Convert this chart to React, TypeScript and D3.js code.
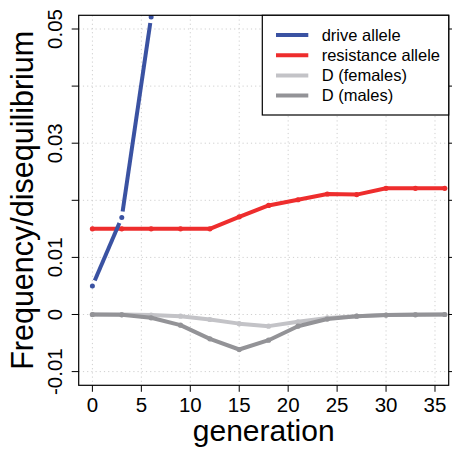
import React from "react";
import * as d3 from "d3";

const generations = [0, 3, 6, 9, 12, 15, 18, 21, 24, 27, 30, 33, 36];
const driveGenerations = [0, 3, 6];
const driveAllele = [0.005, 0.017, 0.0521];
const resistanceAllele = [0.015, 0.015, 0.015, 0.015, 0.015, 0.0171, 0.0191, 0.0201, 0.0211, 0.021, 0.0221, 0.0221, 0.0221];
const dFemales = [0, -0.00002, -0.0001, -0.0003, -0.00088, -0.0016, -0.00204, -0.00128, -0.0006, -0.0003, -0.0001, 0, 0];
const dMales = [0, -0.00005, -0.00058, -0.00187, -0.00426, -0.00613, -0.0045, -0.00205, -0.0008, -0.0003, -0.0001, -0.00005, 0];

const xTicks = [0, 5, 10, 15, 20, 25, 30, 35];
const yTicks = [-0.01, 0, 0.01, 0.02, 0.03, 0.04, 0.05];
const yTickLabels = ["-0.01", "0", "0.01", "", "0.03", "", "0.05"];

const legendLabels = ["drive allele", "resistance allele", "D (females)", "D (males)"];
const colors = ["#3a52a2", "#ee2d2d", "#c3c3c7", "#939397"];

const W = 452;
const H = 450;
const L = 78.7, R = 448.7, T = 15.3, B = 385.3;
const FONT = "'Liberation Sans', Arial, Helvetica, sans-serif";

export default function App() {
  const x = d3.scaleLinear().domain([-1.4, 36.4]).range([L, R]);
  const y = d3.scaleLinear().domain([-0.0124, 0.0524]).range([B, T]);

  const line = d3
    .line<[number, number]>()
    .x((d) => x(d[0]))
    .y((d) => y(d[1]));

  const series = (vals: number[], gens: number[]) =>
    gens.map((g, i) => [g, vals[i]] as [number, number]);

  const red = series(resistanceAllele, generations);
  const fem = series(dFemales, generations);
  const mal = series(dMales, generations);
  const blue = series(driveAllele, driveGenerations);

  // type="b" style segments for the drive allele
  const gap = 6;
  const blueSegs = blue.slice(1).map((d, i) => {
    const p0 = [x(blue[i][0]), y(blue[i][1])];
    const p1 = [x(d[0]), y(d[1])];
    const dx = p1[0] - p0[0];
    const dy = p1[1] - p0[1];
    const len = Math.hypot(dx, dy);
    const ux = dx / len, uy = dy / len;
    return {
      x1: p0[0] + ux * gap,
      y1: p0[1] + uy * gap,
      x2: p1[0] - ux * gap,
      y2: p1[1] - uy * gap,
    };
  });

  const lw = 4;

  return (
    <svg
      width={W}
      height={H}
      style={{ position: "absolute", left: 0, top: 0, background: "#fff" }}
      fontFamily={FONT}
    >
      <defs>
        <clipPath id="plotclip">
          <rect x={L} y={T} width={R - L} height={B - T} />
        </clipPath>
      </defs>
      <rect x={0} y={0} width={W} height={H} fill="#fff" />

      {/* grid */}
      <g stroke="#cfcfcf" strokeWidth={1} strokeDasharray="1.2,3">
        {xTicks.map((t) => (
          <line key={"gx" + t} x1={x(t)} x2={x(t)} y1={T} y2={B} />
        ))}
        {yTicks.map((t) => (
          <line key={"gy" + t} x1={L} x2={R} y1={y(t)} y2={y(t)} />
        ))}
      </g>

      {/* data */}
      <g clipPath="url(#plotclip)">
        <path d={line(fem) || ""} fill="none" stroke={colors[2]} strokeWidth={lw} strokeLinejoin="round" />
        {fem.map((d, i) => (
          <circle key={"f" + i} cx={x(d[0])} cy={y(d[1])} r={2.6} fill={colors[2]} />
        ))}
        <path d={line(mal) || ""} fill="none" stroke={colors[3]} strokeWidth={lw} strokeLinejoin="round" />
        {mal.map((d, i) => (
          <circle key={"m" + i} cx={x(d[0])} cy={y(d[1])} r={2.6} fill={colors[3]} />
        ))}
        <path d={line(red) || ""} fill="none" stroke={colors[1]} strokeWidth={lw} strokeLinejoin="round" />
        {red.map((d, i) => (
          <circle key={"r" + i} cx={x(d[0])} cy={y(d[1])} r={2.6} fill={colors[1]} />
        ))}
        {blueSegs.map((s, i) => (
          <line key={"b" + i} {...s} stroke={colors[0]} strokeWidth={lw} />
        ))}
        {blue.map((d, i) => (
          <circle key={"bp" + i} cx={x(d[0])} cy={y(d[1])} r={2.5} fill={colors[0]} />
        ))}
      </g>

      {/* box */}
      <rect x={L} y={T} width={R - L} height={B - T} fill="none" stroke="#000" strokeWidth={1.2} />

      {/* x axis */}
      <g>
        {xTicks.map((t) => (
          <g key={"xt" + t}>
            <line x1={x(t)} x2={x(t)} y1={B} y2={B + 6.5} stroke="#000" strokeWidth={1} />
            <text x={x(t)} y={411.5} textAnchor="middle" fontSize={20.5} fill="#000">
              {t}
            </text>
          </g>
        ))}
      </g>

      {/* y axis left */}
      <g>
        {yTicks.map((t, i) => (
          <g key={"yt" + t}>
            <line x1={L} x2={L - 7} y1={y(t)} y2={y(t)} stroke="#000" strokeWidth={1} />
            {yTickLabels[i] && (
              <text
                transform={`translate(61.7,${y(t)}) rotate(-90)`}
                textAnchor="middle"
                fontSize={20.5}
                fill="#000"
              >
                {yTickLabels[i]}
              </text>
            )}
          </g>
        ))}
      </g>

      {/* y axis right ticks */}
      <g>
        {yTicks.map((t) => (
          <line key={"yr" + t} x1={R} x2={R + 7} y1={y(t)} y2={y(t)} stroke="#000" strokeWidth={1} />
        ))}
      </g>

      {/* axis titles */}
      <text x={(L + R) / 2} y={440.5} textAnchor="middle" fontSize={30} fill="#000">
        generation
      </text>
      <text
        transform={`translate(33.3,${(T + B) / 2}) rotate(-90)`}
        textAnchor="middle"
        fontSize={30.5}
        fill="#000"
      >
        Frequency/disequilibrium
      </text>

      {/* legend */}
      <g>
        <rect x={262.3} y={T} width={R - 262.3} height={115 - T} fill="#fff" stroke="#000" strokeWidth={1.2} />
        {legendLabels.map((lab, i) => {
          const cy = 35 + i * 20.2;
          return (
            <g key={"lg" + i}>
              <line x1={276} x2={308.3} y1={cy} y2={cy} stroke={colors[i]} strokeWidth={lw} />
              <text x={321.7} y={cy + 5.8} fontSize={16.5} fill="#000">
                {lab}
              </text>
            </g>
          );
        })}
      </g>
    </svg>
  );
}
